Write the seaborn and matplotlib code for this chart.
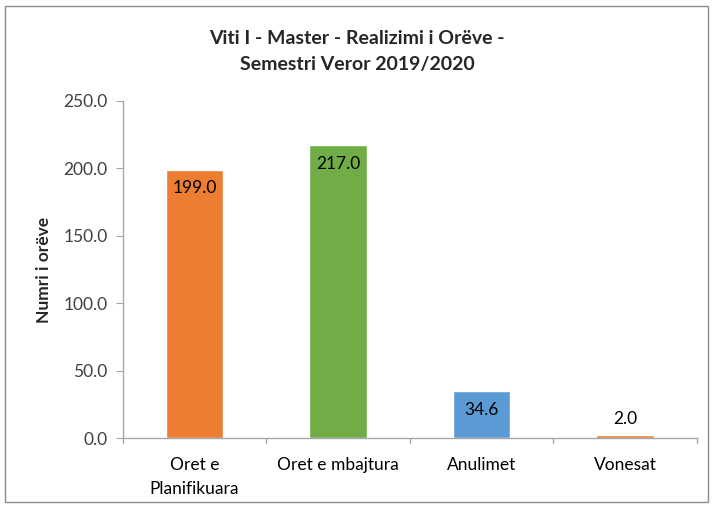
import pandas as pd
import seaborn as sns
import matplotlib.pyplot as plt
from matplotlib.patches import Rectangle

# data
categories = ['Oret e\nPlanifikuara', 'Oret e mbajtura', 'Anulimet', 'Vonesat']
hours = [199.0, 217.0, 34.6, 2.0]
colors = ['#ED7D31', '#70AD47', '#5B9BD5', '#ED7D31']

df = pd.DataFrame({'cat': categories, 'val': hours})

sns.set_style('white')
plt.rcParams['font.family'] = ['Lato', 'DejaVu Sans']

fig = plt.figure(figsize=(7.14, 5.07), dpi=100)
ax = fig.add_axes([0.172, 0.136, 0.804, 0.665])
sns.barplot(data=df, x='cat', y='val', hue='cat', palette=colors,
            width=0.4, legend=False, ax=ax, saturation=1)

ax.set_ylim(0, 250)
ax.set_xlim(-0.5, 3.5)
ax.set_yticks([0, 50, 100, 150, 200, 250])
ax.set_yticklabels([f'{v:.1f}' for v in ax.get_yticks()], fontsize=12.5, color='#404040')
ax.set_xticks(range(4))
ax.set_xticklabels(categories, fontsize=12.5, color='#000000', linespacing=1.55)
ax.tick_params(axis='x', length=0, pad=14)
ax.tick_params(axis='y', length=5, color='#A6A6A6', left=True, pad=6)

# category boundary ticks on x axis
for b in [-0.5, 0.5, 1.5, 2.5, 3.5]:
    ax.plot([b, b], [0, -4], color='#A6A6A6', lw=1, clip_on=False)

for s in ['top', 'right']:
    ax.spines[s].set_visible(False)
for s in ['left', 'bottom']:
    ax.spines[s].set_color('#A6A6A6')
    ax.spines[s].set_linewidth(1)

ax.set_xlabel('')
ax.set_ylabel('Numri i orëve', fontsize=12.5, fontweight='bold', labelpad=8)

# value labels
for i, v in enumerate(hours):
    if v > 20:
        ax.text(i, v - 8, f'{v:.1f}', ha='center', va='top', fontsize=12.5, color='#000000')
    else:
        ax.text(i, v + 6, f'{v:.1f}', ha='center', va='bottom', fontsize=12.5, color='#000000')

fig.suptitle('Viti I - Master - Realizimi i Orëve -\nSemestri Veror 2019/2020',
             fontsize=14, fontweight='bold', y=0.94, linespacing=1.6)

fig.patches.append(Rectangle((0.007, 0.01), 0.985, 0.978, transform=fig.transFigure,
                             fill=False, edgecolor='#8C8C8C', lw=1))

fig.savefig('out.png', dpi=100)
